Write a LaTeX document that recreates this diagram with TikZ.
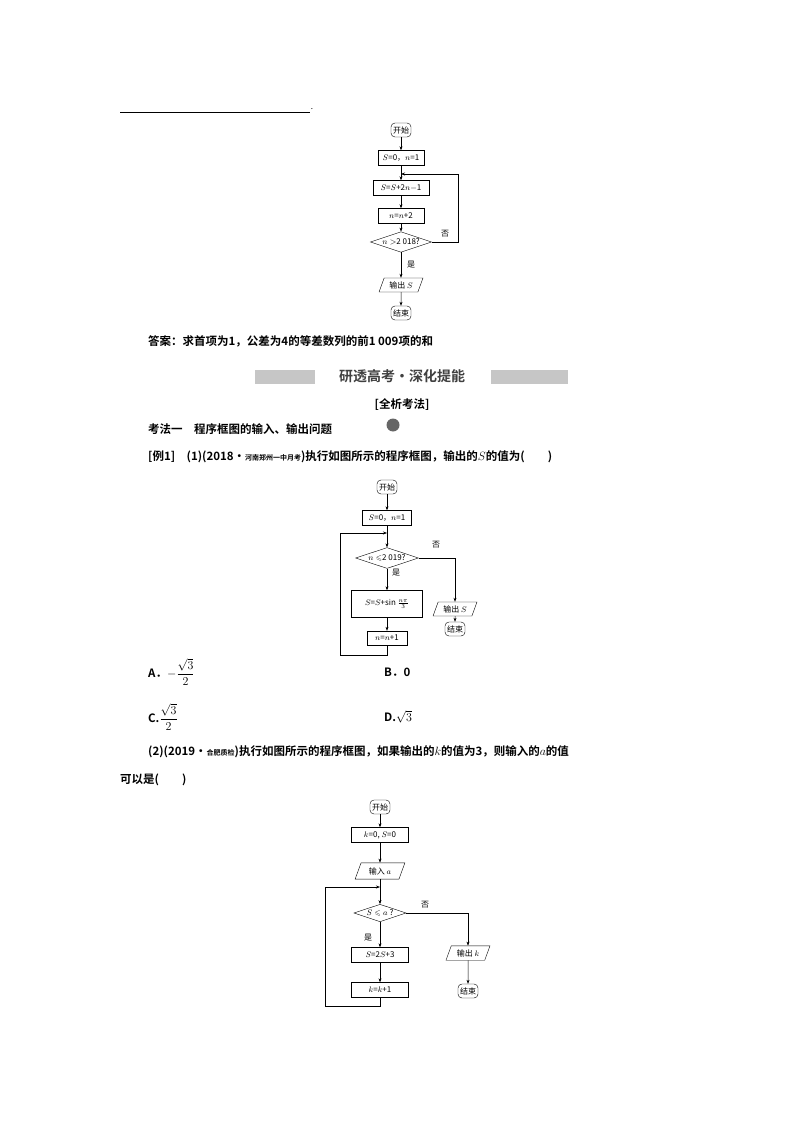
\documentclass[tikz,border=0pt]{standalone}
\usepackage{amsmath,amssymb}
\usepackage{fontspec}
\setmainfont{Noto Sans CJK SC}
\newfontfamily\cjkb{Noto Sans CJK SC Bold}
\usetikzlibrary{shapes.geometric,arrows.meta}
\begin{document}
\begin{tikzpicture}[x=1pt,y=-1pt,
 every node/.style={font=\fontsize{8}{9}\selectfont,inner sep=1pt},
 proc/.style={draw,minimum height=15,inner sep=2pt},
 term/.style={draw,rounded corners=4,minimum height=14,inner sep=2pt},
 dec/.style={draw,diamond,aspect=3,inner sep=0.5pt},
 io/.style={draw,trapezium,trapezium left angle=70,trapezium right angle=110,minimum height=14,inner sep=2pt},
 ar/.style={-{Stealth[length=4pt,width=3pt]},line width=0.5pt},
 ln/.style={line width=0.5pt},
 body/.style={font=\cjkb\fontsize{11.5}{13}\selectfont,anchor=west,inner sep=0}]
\useasboundingbox (0,0) rectangle (794,1123);
% top line
\draw[line width=0.6pt] (120,112) -- (310,112);
\node[inner sep=0] (dot) at (312,109) {.};
% chart 1
\node[term] (a1) at (401,130) {开始};
\node[proc,minimum width=46] (a2) at (401,158) {$S$=0，$n$=1};
\node[proc,minimum width=56] (a3) at (401,188) {$S$=$S$+2$n$$-$1};
\node[proc,minimum width=46] (a4) at (401,216) {$n$=$n$+2};
\node[dec] (a5) at (401,242) {$n>$2 018?};
\node[io] (a6) at (401,285) {输出 $S$};
\node[term] (a7) at (401,313) {结束};
\coordinate (a8) at (401,174);
\draw[ar] (a1)--(a2); \draw[ln] (a2)--(a8); \draw[ar] (a8)--(a3);
\draw[ar] (a3)--(a4); \draw[ar] (a4)--(a5); \draw[ar] (a5)--(a6); \draw[ar] (a6)--(a7);
\draw[ar] (a5.east)--(458,242)--(458,174)--(a8);
\node (a9) at (445,234) {否};
\node (a10) at (411,265) {是};
\node[body] (t1) at (148,341) {答案：求首项为1，公差为4的等差数列的前1 009项的和};
% banner
\fill[gray!45] (255,370) rectangle (315,384);
\fill[gray!45] (491,370) rectangle (568,384);
\node[font=\cjkb\fontsize{14}{16}\selectfont,text=black!75] (t2) at (402,376) {研透高考·深化提能};
\node[body,anchor=center] (t3) at (402,405) {[全析考法]};
\node[body] (t4) at (148,429) {考法一\quad 程序框图的输入、输出问题};
\fill[black!60] (393,425) circle (6.5);
\node[body] (t5) at (148,457) {[例1]\quad (1)(2018·{\fontsize{7}{8}\selectfont 河南郑州一中月考})执行如图所示的程序框图，输出的$S$的值为(\qquad )};
% chart 2
\node[term] (b1) at (387,487) {开始};
\node[proc,minimum width=49] (b2) at (387,518) {$S$=0，$n$=1};
\coordinate (b3) at (387,533);
\node[dec] (b4) at (387,558) {$n\leqslant$2 019?};
\node[proc,minimum width=71,minimum height=27] (b5) at (387,604) {$S$=$S$+sin$\,\frac{n\pi}{3}$};
\node[proc,minimum width=40,minimum height=14] (b6) at (387,638) {$n$=$n$+1};
\node[io] (b7) at (455,609) {输出 $S$};
\node[term] (b8) at (455,629) {结束};
\draw[ar] (b1)--(b2); \draw[ln] (b2)--(b3); \draw[ar] (b3)--(b4);
\draw[ar] (b4)--(b5); \draw[ar] (b5)--(b6);
\draw[ar] (b6.south)--(387,655)--(340,655)--(340,533)--(b3);
\draw[ar] (b4.east)--(455,558)--(b7); \draw[ar] (b7)--(b8);
\node (b9) at (436,545) {否};
\node (b10) at (396,573) {是};
\node[body] (o1) at (148,672) {A．$-\dfrac{\sqrt3}{2}$};
\node[body] (o2) at (384,672) {B．0};
\node[body] (o3) at (148,717) {C.$\dfrac{\sqrt3}{2}$};
\node[body] (o4) at (384,717) {D.$\sqrt3$};
\node[body] (t6) at (148,752) {(2)(2019·{\fontsize{7}{8}\selectfont 合肥质检})执行如图所示的程序框图，如果输出的$k$的值为3，则输入的$a$的值};
\node[body] (t7) at (120,780) {可以是(\qquad )};
% chart 3
\node[term] (c1) at (380,807) {开始};
\node[proc,minimum width=57] (c2) at (380,835) {$k$=0, $S$=0};
\node[io,minimum width=50] (c3) at (380,871) {输入 $a$};
\coordinate (c4) at (380,887);
\node[dec] (c5) at (380,913) {$S\leqslant a$ ?};
\node[proc,minimum width=57] (c6) at (380,955) {$S$=2$S$+3};
\node[proc,minimum width=57] (c7) at (380,990) {$k$=$k$+1};
\node[io,minimum width=44] (c8) at (468,953) {输出 $k$};
\node[term] (c9) at (468,991) {结束};
\draw[ar] (c1)--(c2); \draw[ar] (c2)--(c3); \draw[ln] (c3)--(c4); \draw[ar] (c4)--(c5);
\draw[ar] (c5)--(c6); \draw[ar] (c6)--(c7);
\draw[ar] (c7.south)--(380,1006)--(325,1006)--(325,887)--(c4);
\draw[ar] (c5.east)--(468,913)--(c8); \draw[ar] (c8)--(c9);
\node (c10) at (425,905) {否};
\node (c11) at (368,938) {是};
\end{tikzpicture}
\end{document}
